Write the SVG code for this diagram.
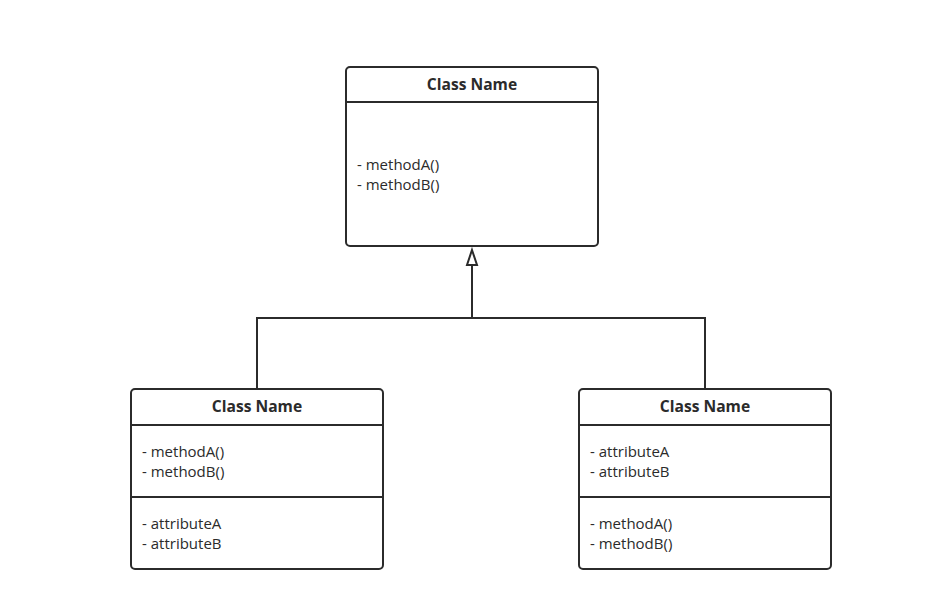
<svg xmlns="http://www.w3.org/2000/svg" width="925" height="614" viewBox="0 0 925 614">
<defs>
<style>
.box{fill:#fff;stroke:#2b2b2b;stroke-width:2}
.sep{stroke:#2b2b2b;stroke-width:2}
.hd{font-family:"Open Sans","Liberation Sans",sans-serif;font-weight:bold;font-size:15.6px;fill:#2b2b2b;text-anchor:middle}
.tx{font-family:"Open Sans","Liberation Sans",sans-serif;font-size:15px;fill:#2b2b2b}
.ln{fill:none;stroke:#2b2b2b;stroke-width:2}
</style>
</defs>
<rect width="925" height="614" fill="#fff"/>
<g id="connectors">
<path class="ln" d="M472,250 V318"/>
<path d="M472,250 L477,265 L467,265 Z" fill="#fff" stroke="#2b2b2b" stroke-width="2"/>
<path class="ln" d="M257,389 V318 H705 V389"/>
</g>
<g id="top">
<rect class="box" x="346" y="67" width="252" height="179" rx="4"/>
<line class="sep" x1="346" y1="102" x2="598" y2="102"/>
<text class="hd" x="472" y="90">Class Name</text>
<text class="tx" x="357" y="170">- methodA()</text>
<text class="tx" x="357" y="190">- methodB()</text>
</g>
<g id="left">
<rect class="box" x="131" y="389" width="252" height="180" rx="4"/>
<line class="sep" x1="131" y1="425" x2="383" y2="425"/>
<line class="sep" x1="131" y1="497" x2="383" y2="497"/>
<text class="hd" x="257" y="412">Class Name</text>
<text class="tx" x="142" y="457">- methodA()</text>
<text class="tx" x="142" y="477">- methodB()</text>
<text class="tx" x="142" y="529">- attributeA</text>
<text class="tx" x="142" y="549">- attributeB</text>
</g>
<g id="right">
<rect class="box" x="579" y="389" width="252" height="180" rx="4"/>
<line class="sep" x1="579" y1="425" x2="831" y2="425"/>
<line class="sep" x1="579" y1="497" x2="831" y2="497"/>
<text class="hd" x="705" y="412">Class Name</text>
<text class="tx" x="590" y="457">- attributeA</text>
<text class="tx" x="590" y="477">- attributeB</text>
<text class="tx" x="590" y="529">- methodA()</text>
<text class="tx" x="590" y="549">- methodB()</text>
</g>
</svg>
